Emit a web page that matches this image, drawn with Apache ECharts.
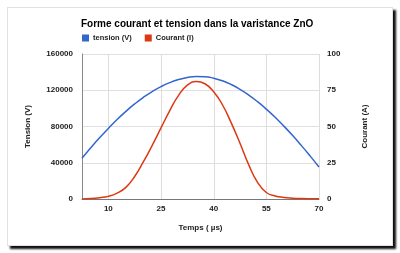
<!DOCTYPE html>
<html><head><meta charset="utf-8">
<script src="https://cdn.jsdelivr.net/npm/echarts@6/dist/echarts.min.js"></script>
<style>
html,body{margin:0;padding:0;background:#fff;width:400px;height:253px;overflow:hidden;}
#card{position:absolute;left:7px;top:7px;width:384px;height:237px;background:#fff;border:1px solid #e2e2e2;box-shadow:3px 3px 2px #111;}
#chart{position:absolute;left:0;top:0;width:400px;height:253px;}
</style></head>
<body>
<div id="card"></div>
<div id="chart"></div>
<script>
const times = [2.5,5,7.5,10,12.5,15,17.5,20,22.5,25,27.5,30,32.5,35,37.5,40,42.5,45,47.5,50,52.5,55,57.5,60,62.5,65,67.5,70];
const tension = [45000,56500,67500,77900,87700,96700,104900,112200,118600,124000,128400,131800,134100,135300,135000,133300,130400,126300,121000,114700,107400,99200,90200,80400,70000,58900,47300,35300];
const courant = [0,0.3,0.9,1.8,4,8,15.5,25.7,37,49,61,71.5,78.5,81,79.5,74,65,52.5,38.5,23.5,11.5,4.5,2.1,1.1,0.6,0.3,0.15,0.1];
const xTicks = [10,25,40,55,70];
const seriesNames = ['tension (V)','Courant (I)'];

const lab = {fontSize:8,fontWeight:'bold',color:'#222',fontFamily:'Liberation Sans, Arial, sans-serif'};
const chart = echarts.init(document.getElementById('chart'));
chart.setOption({
  animation:false,
  backgroundColor:'transparent',
  textStyle:{fontFamily:'Liberation Sans, Arial, sans-serif'},
  title:{text:'Forme courant et tension dans la varistance ZnO',left:81,top:19,padding:0,
    textStyle:{fontSize:10,fontWeight:'bold',color:'#000'}},
  legend:{left:82,top:34,padding:0,itemWidth:7,itemHeight:7,itemGap:13,icon:'rect',
    textStyle:{fontSize:7.5,fontWeight:'bold',color:'#222',padding:[0,0,0,-1]},data:seriesNames},
  grid:{left:82,right:81,top:54,bottom:54},
  xAxis:{type:'value',min:2.5,max:70,
    name:'Temps ( µs)',nameLocation:'middle',nameGap:25,nameTextStyle:lab,
    axisLine:{show:true,lineStyle:{color:'#777',width:1}},
    axisTick:{show:false,customValues:xTicks},
    axisLabel:Object.assign({customValues:xTicks,margin:6},lab),
    splitLine:{show:false}},
  yAxis:[
    {type:'value',min:0,max:160000,interval:40000,
     name:'Tension (V)',nameLocation:'middle',nameGap:50,nameTextStyle:lab,
     axisLine:{show:true,lineStyle:{color:'#888'}},axisTick:{show:false},
     axisLabel:Object.assign({margin:9,formatter:v=>String(v)},lab),
     splitLine:{show:true,lineStyle:{color:'#e0e0e0'}}},
    {type:'value',min:0,max:100,interval:25,position:'right',
     name:'Courant (A)',nameLocation:'middle',nameGap:42,nameRotate:90,nameTextStyle:lab,
     axisLine:{show:false},axisTick:{show:false},
     axisLabel:Object.assign({margin:8,formatter:v=>String(v)},lab),
     splitLine:{show:false}}
  ],
  series:[
    {name:'vgrid',type:'custom',yAxisIndex:0,xAxisIndex:0,coordinateSystem:'cartesian2d',silent:true,z:1,clip:false,
     data:xTicks.map(v=>[v,0]),
     encode:{x:0,y:1},
     renderItem:function(params,api){
       const x=api.value(0);
       const p0=api.coord([x,0]);
       const p1=api.coord([x,160000]);
       const xx=Math.round(p0[0])+0.5;
       return {type:'line',shape:{x1:xx,y1:p0[1],x2:xx,y2:p1[1]},
         style:{stroke:'#dddddd',lineWidth:1,fill:null}};
     }},
    {name:seriesNames[0],type:'line',yAxisIndex:0,showSymbol:false,smooth:true,z:3,
     itemStyle:{color:'#3366cc'},lineStyle:{color:'#3366cc',width:1.5},
     data:times.map((t,i)=>[t,tension[i]])},
    {name:seriesNames[1],type:'line',yAxisIndex:1,showSymbol:false,smooth:true,z:3,
     itemStyle:{color:'#dc3912'},lineStyle:{color:'#dc3912',width:1.5},
     data:times.map((t,i)=>[t,courant[i]])}
  ]
});
</script>
</body></html>
